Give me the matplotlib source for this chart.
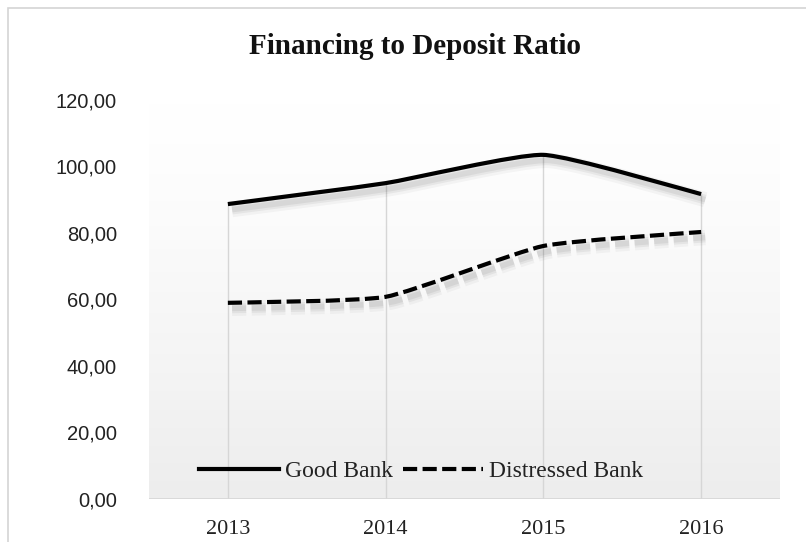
import numpy as np
import matplotlib
matplotlib.use("Agg")
import matplotlib.pyplot as plt
from matplotlib.path import Path
from matplotlib.patches import PathPatch, Rectangle
from matplotlib.lines import Line2D
import matplotlib.patheffects as pe
from matplotlib.ticker import FuncFormatter

years = ["2013", "2014", "2015", "2016"]
good_bank = [88.7, 95.0, 103.5, 91.7]
distressed_bank = [59.0, 60.8, 76.1, 80.3]
y_ticks = [0, 20, 40, 60, 80, 100, 120]

SERIF = ["Liberation Serif", "DejaVu Serif"]
SANS = ["Liberation Sans Narrow", "Liberation Sans", "DejaVu Sans"]

W, H, DPI = 806, 542, 100
fig = plt.figure(figsize=(W / DPI, H / DPI), dpi=DPI)
fig.patch.set_facecolor("white")

# outer chart frame
fig.patches.append(Rectangle((8 / W, -0.1), 1.2, 1 - 8 / H + 0.1,
                             transform=fig.transFigure, fill=False,
                             edgecolor="#d4d4d4", linewidth=1.2))

ax = fig.add_axes([149 / W, 1 - 499 / H, (780 - 149) / W, (499 - 100) / H])
ax.set_xlim(-0.5, len(years) - 0.5)
ax.set_ylim(0, 120)

# plot area gradient (white at top, light grey at bottom)
grad = np.linspace(0, 1, 256).reshape(-1, 1) ** 1.3
ax.imshow(grad, extent=(-0.5, len(years) - 0.5, 0, 120), origin="upper",
          aspect="auto", cmap=matplotlib.colors.LinearSegmentedColormap.from_list(
              "bg", ["#ffffff", "#ededed"]), zorder=0)

x = np.arange(len(years))

# drop lines from the highest point of each category to the axis
ax.vlines(x, 0, np.maximum(good_bank, distressed_bank), colors="#d6d6d6",
          linewidth=1.0, zorder=1)
ax.axhline(0, color="#d6d6d6", linewidth=1.2, zorder=1)


def smooth_path(xs, ys, k=12.0):
    pts = np.column_stack([xs, ys]).astype(float)
    ext = np.vstack([pts[0], pts, pts[-1]])
    verts = [pts[0]]
    codes = [Path.MOVETO]
    for i in range(len(pts) - 1):
        p0, p1, p2, p3 = ext[i], ext[i + 1], ext[i + 2], ext[i + 3]
        c1 = p1 + (p2 - p0) / k
        c2 = p2 - (p3 - p1) / k
        verts += [c1, c2, p2]
        codes += [Path.CURVE4] * 3
    return Path(verts, codes)


shadow = [
    pe.SimpleLineShadow(offset=(3, -4), shadow_color="black", alpha=0.035, linewidth=11),
    pe.SimpleLineShadow(offset=(3, -4), shadow_color="black", alpha=0.05, linewidth=7),
    pe.SimpleLineShadow(offset=(3, -4), shadow_color="black", alpha=0.06, linewidth=4),
    pe.Normal(),
]

lw = 3.0
dashes = (0, (3.4, 1.3))
good_patch = PathPatch(smooth_path(x, good_bank), fill=False, edgecolor="black",
                       linewidth=lw, capstyle="butt", joinstyle="round", zorder=3)
good_patch.set_path_effects(shadow)
ax.add_patch(good_patch)

dist_patch = PathPatch(smooth_path(x, distressed_bank), fill=False, edgecolor="black",
                       linewidth=lw, linestyle=dashes, capstyle="butt", zorder=3)
dist_patch.set_path_effects(shadow)
ax.add_patch(dist_patch)

for s in ax.spines.values():
    s.set_visible(False)

ax.set_xticks(x)
ax.set_xticklabels(years, fontfamily=SERIF, fontsize=16, color="#222222")
ax.set_yticks(y_ticks)
ax.yaxis.set_major_formatter(FuncFormatter(lambda v, p: f"{v:.2f}".replace(".", ",")))
for t in ax.get_yticklabels():
    t.set_fontfamily(SANS)
    t.set_fontsize(14.5)
    t.set_color("#222222")
ax.tick_params(axis="y", length=0, pad=23)
ax.tick_params(axis="x", length=0, pad=15)

fig.text(415 / W, 1 - 47 / H, "Financing to Deposit Ratio", ha="center", va="center",
         fontfamily=SERIF, fontweight="bold", fontsize=21, color="#111111")

handles = [
    Line2D([], [], color="black", linewidth=lw),
    Line2D([], [], color="black", linewidth=lw, linestyle=dashes),
]
leg = fig.legend(handles, ["Good Bank", "Distressed Bank"], loc="center",
                 bbox_to_anchor=(421 / W, 1 - 471 / H), ncol=2, frameon=False,
                 prop={"family": SERIF, "size": 17}, handlelength=3.4,
                 handletextpad=0.25, columnspacing=0.4)
for t in leg.get_texts():
    t.set_color("#222222")

fig.savefig("out.png", dpi=DPI, facecolor="white")
